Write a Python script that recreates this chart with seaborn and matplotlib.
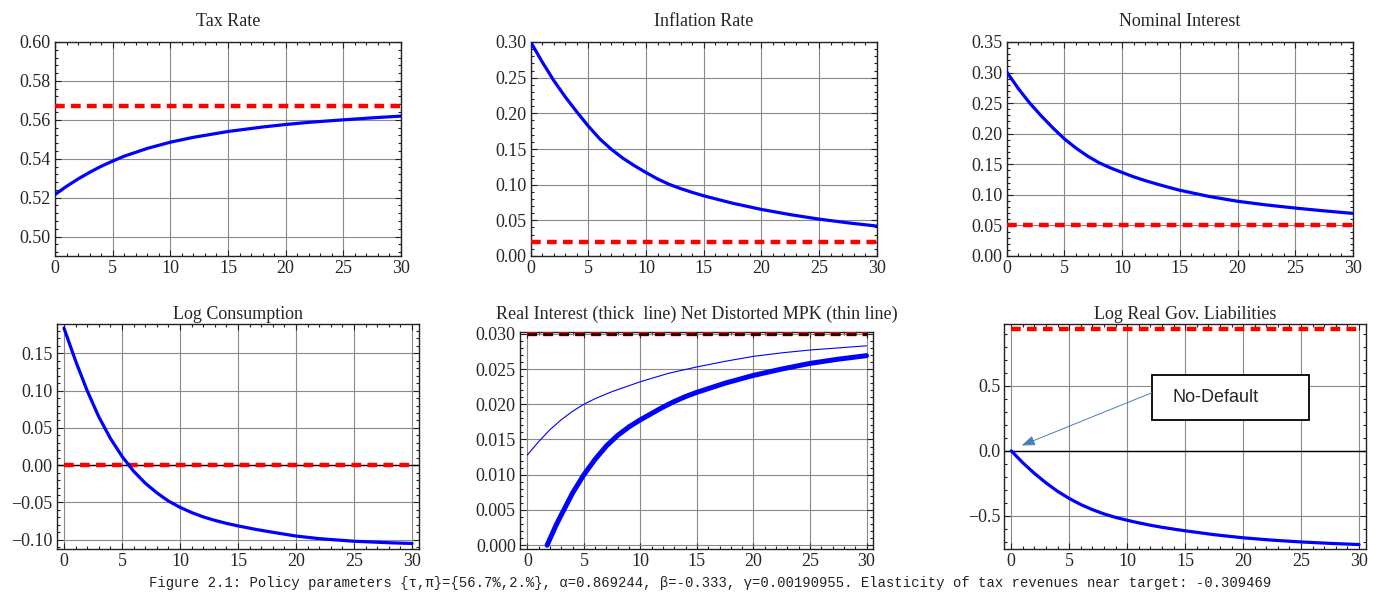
import matplotlib
matplotlib.use("Agg")
import matplotlib.pyplot as plt
import seaborn as sns
from matplotlib.ticker import AutoMinorLocator, FuncFormatter
from matplotlib.patches import Rectangle

# ---------------- data ----------------
t_tax = [0, 1, 2, 3, 4, 5, 6, 8, 10, 12, 15, 18, 20, 22, 25, 28, 30]
tax_rate = [0.5216, 0.5258, 0.5296, 0.5330, 0.5361, 0.5388, 0.5413, 0.5453, 0.5485,
            0.5510, 0.5540, 0.5563, 0.5576, 0.5587, 0.5600, 0.5612, 0.5619]
tax_target = 0.567

t_inf = [0, 1, 2, 3, 4, 5, 6, 7, 8, 9, 10, 11, 12, 13, 14, 15, 17.5, 20, 22.5, 25, 27.5, 30]
inflation = [0.300, 0.272, 0.246, 0.223, 0.202, 0.182, 0.164, 0.1495, 0.137, 0.1265,
             0.117, 0.108, 0.1005, 0.0945, 0.0892, 0.0844, 0.074, 0.0653, 0.058, 0.0517,
             0.0465, 0.042]
inflation_target = 0.02

t_nom = [0, 1, 2, 3, 4, 5, 6, 7, 8, 9, 10, 11, 12, 13, 14, 15, 17.5, 20, 22.5, 25, 27.5, 30]
nominal = [0.301, 0.274, 0.250, 0.229, 0.2095, 0.1915, 0.1765, 0.1635, 0.1525, 0.144,
           0.1366, 0.1295, 0.1233, 0.1177, 0.1125, 0.1075, 0.0975, 0.0895, 0.0835, 0.0784,
           0.0738, 0.0697]
nominal_target = 0.05

t_cons = [0, 1, 2, 3, 4, 5, 6, 7, 8, 9, 10, 11, 12, 13, 14, 15, 16.5, 18, 20, 22, 25, 28, 30]
log_consumption = [0.184, 0.140, 0.100, 0.065, 0.036, 0.012, -0.008, -0.024, -0.037,
                   -0.048, -0.0565, -0.0635, -0.0693, -0.0740, -0.0780, -0.0814, -0.0860,
                   -0.0900, -0.0950, -0.0985, -0.1020, -0.1040, -0.1050]
consumption_target = 0.0

t_real = [1.75, 2, 2.5, 3, 4, 5, 6, 7, 8, 9, 10, 11, 12, 13, 14, 15, 17.5, 20, 22.5, 25, 27.5, 30]
real_interest = [0.0, 0.0009, 0.0027, 0.0043, 0.0074, 0.0100, 0.0122, 0.0141, 0.0156,
                 0.0168, 0.0178, 0.0187, 0.0196, 0.0204, 0.0211, 0.0217, 0.0230, 0.0241,
                 0.0250, 0.0258, 0.0264, 0.0269]
t_mpk = [0, 1, 2, 3, 4, 5, 6, 7.5, 10, 12.5, 15, 17.5, 20, 22.5, 25, 27.5, 30]
net_mpk = [0.0128, 0.0147, 0.0164, 0.0178, 0.0190, 0.0200, 0.0208, 0.0218, 0.0232,
           0.0244, 0.0253, 0.0261, 0.0268, 0.0273, 0.0277, 0.0280, 0.0283]
real_target = 0.030

t_liab = [0, 1, 2, 3, 4, 5, 6, 7, 8, 9, 10, 11, 12, 13, 14, 15, 17.5, 20, 22.5, 25, 27.5, 30]
log_liabilities = [0.0, -0.092, -0.174, -0.247, -0.312, -0.367, -0.414, -0.453, -0.486,
                   -0.513, -0.535, -0.555, -0.573, -0.589, -0.603, -0.616, -0.646, -0.670,
                   -0.688, -0.702, -0.713, -0.722]
liabilities_target = 0.94

titles = ["Tax Rate", "Inflation Rate", "Nominal Interest", "Log Consumption",
          "Real Interest (thick  line) Net Distorted MPK (thin line)",
          "Log Real Gov. Liabilities"]
caption = ("Figure 2.1: Policy parameters {\u03c4,\u03c0}={56.7%,2.%}, \u03b1=0.869244, "
           "\u03b2=-0.333, \u03b3=0.00190955. Elasticity of tax revenues near target: -0.309469")
annotation_text = "No-Default"

# ---------------- style ----------------
sns.set_style("ticks")
plt.rcParams["font.family"] = ["Liberation Serif", "DejaVu Serif"]
plt.rcParams["lines.scale_dashes"] = False
plt.rcParams["axes.unicode_minus"] = True

BLUE = "#0000ff"
RED = "#ff0000"
DASH = (0, (7, 4.5))

fig = plt.figure(figsize=(13.85, 5.96), dpi=100)
W, H = 1385.0, 596.0


def add_ax(left, right, top, bottom):
    return fig.add_axes([left / W, 1 - bottom / H, (right - left) / W, (bottom - top) / H])


ax1 = add_ax(55, 401, 42, 256)
ax2 = add_ax(530.7, 876.7, 42, 256)
ax3 = add_ax(1006.7, 1353, 42, 256)
ax4 = add_ax(57, 419, 324.3, 548.7)
ax5 = add_ax(520, 873.3, 331.7, 548.7)
ax6 = add_ax(1004.3, 1366, 324.3, 548.7)


def style(ax, xlim, ylim, yticks, fmt, title, pad):
    ax.set_xlim(*xlim)
    ax.set_ylim(*ylim)
    ax.set_xticks(range(0, 31, 5))
    ax.set_yticks(yticks)
    ax.yaxis.set_major_formatter(FuncFormatter(lambda v, p: (fmt % v).replace("-", "\u2212")))
    ax.xaxis.set_minor_locator(AutoMinorLocator(5))
    ax.yaxis.set_minor_locator(AutoMinorLocator(5))
    ax.tick_params(which="both", direction="in", top=True, right=True,
                   labelsize=13, pad=3, color="#222222", width=0.8)
    ax.tick_params(which="major", length=4)
    ax.tick_params(which="minor", length=2.3)
    ax.grid(True, which="major", color="#8a8a8a", lw=0.8)
    ax.set_axisbelow(True)
    for s in ax.spines.values():
        s.set_color("#222222")
        s.set_linewidth(1.0)
    ax.set_title(title, fontsize=13, pad=pad)
    ax.set_xlabel("")
    ax.set_ylabel("")


def target_line(ax, y, x0, x1, black=False):
    ax.hlines(y, x0, x1, colors=RED, linewidth=3.2, linestyles=DASH, zorder=3)
    if black:
        ax.hlines(y, x0, x1, colors="black", linewidth=1.8, linestyles=DASH, zorder=4)


def curve(ax, x, y, lw):
    sns.lineplot(x=x, y=y, ax=ax, color=BLUE, linewidth=lw, estimator=None, sort=False,
                 zorder=5, solid_joinstyle="round")


# Tax rate
target_line(ax1, tax_target, 0, 30)
curve(ax1, t_tax, tax_rate, 2.3)
style(ax1, (0, 30), (0.49, 0.60), [0.50, 0.52, 0.54, 0.56, 0.58, 0.60], "%.2f", titles[0], 11.5)

# Inflation
target_line(ax2, inflation_target, 0, 30)
curve(ax2, t_inf, inflation, 2.3)
style(ax2, (0, 30), (0, 0.30), [0, 0.05, 0.10, 0.15, 0.20, 0.25, 0.30], "%.2f", titles[1], 11.5)

# Nominal interest
target_line(ax3, nominal_target, 0, 30)
curve(ax3, t_nom, nominal, 2.3)
style(ax3, (0, 30), (0, 0.35), [0, 0.05, 0.10, 0.15, 0.20, 0.25, 0.30, 0.35], "%.2f", titles[2], 11.5)

# Log consumption
ax4.axhline(0, color="black", lw=1.0, zorder=2)
target_line(ax4, consumption_target, 0, 30)
curve(ax4, t_cons, log_consumption, 2.3)
style(ax4, (-0.6, 30.6), (-0.112, 0.189), [-0.10, -0.05, 0.0, 0.05, 0.10, 0.15], "%.2f", titles[3], 3.6)

# Real interest / MPK
target_line(ax5, real_target, 0, 30, black=True)
curve(ax5, t_mpk, net_mpk, 0.8)
curve(ax5, t_real, real_interest, 3.6)
style(ax5, (-0.65, 30.6), (-0.0005, 0.0303), [0, 0.005, 0.010, 0.015, 0.020, 0.025, 0.030],
      "%.3f", titles[4], 9)

# Log real gov liabilities
ax6.axhline(0, color="black", lw=1.0, zorder=2)
target_line(ax6, liabilities_target, 0, 30)
curve(ax6, t_liab, log_liabilities, 2.3)
style(ax6, (-0.6, 30.6), (-0.754, 0.975), [-0.5, 0.0, 0.5], "%.1f", titles[5], 3.6)

# annotation box
ax6.add_patch(Rectangle((0.408, 0.5735), 0.434, 0.2005, transform=ax6.transAxes,
                        facecolor="white", edgecolor="black", lw=1.3, zorder=6))
ax6.text(0.466, 0.676, annotation_text, transform=ax6.transAxes, fontsize=13,
         family=["Liberation Sans", "DejaVu Sans"], va="center", ha="left", zorder=7)
ax6.annotate("", xy=(0.048, 0.46), xycoords="axes fraction",
             xytext=(0.408, 0.695), textcoords="axes fraction",
             arrowprops=dict(arrowstyle="-|>,head_length=0.8,head_width=0.3",
                             color="#4a7ebb", lw=0.7, shrinkA=0, shrinkB=0), zorder=7)

fig.text(0.5126, 0.0218, caption, family=["Liberation Mono", "DejaVu Sans Mono"],
         fontsize=10, ha="center", va="center", color="#222222")

fig.savefig("out.png", dpi=100)
